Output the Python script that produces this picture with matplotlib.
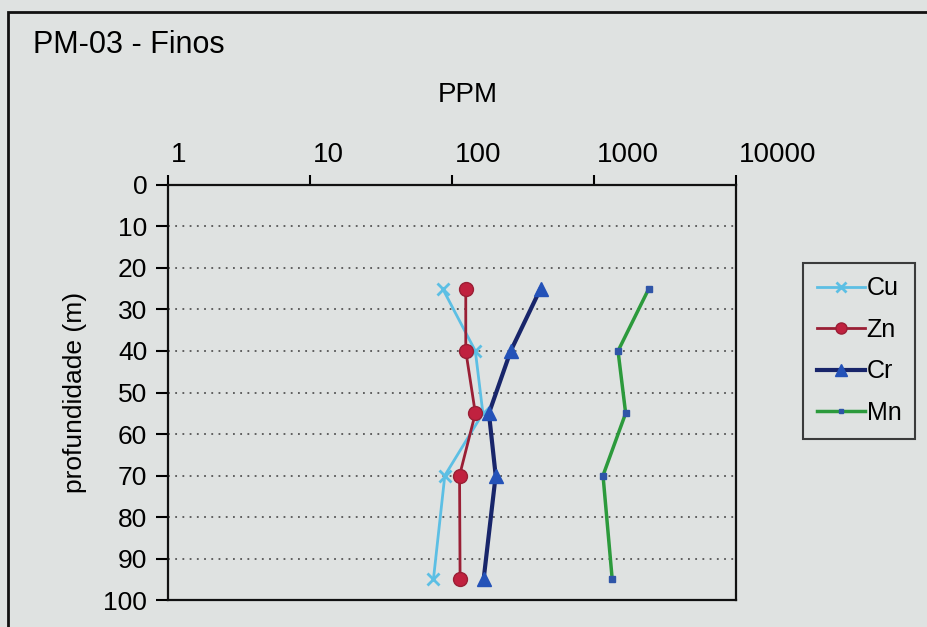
import matplotlib.pyplot as plt
from matplotlib.patches import Rectangle

plt.rcParams['font.family'] = ['Liberation Sans', 'DejaVu Sans']

# depth (m) and concentrations (ppm)
depth = [25, 40, 55, 70, 95]
cu = [86, 146, 165, 89, 74]
zn = [125, 125, 146, 113, 114]
cr = [420, 259, 182, 203, 167]
mn = [2430, 1476, 1670, 1157, 1343]

x_ticks = [1, 10, 100, 1000, 10000]
y_ticks = list(range(0, 101, 10))

bg = '#dfe2e1'

fig = plt.figure(figsize=(9.27, 6.27), dpi=100, facecolor=bg)
ax = fig.add_axes([0.1812, 0.043, 0.6128, 0.662], facecolor=bg)

# outer chart frame (runs off the picture at right and bottom)
fig.patches.append(Rectangle((0.0086, -0.1), 1.2, 1.081, transform=fig.transFigure,
                             fill=False, edgecolor='#111111', linewidth=2))

ax.plot(cu, depth, color='#5cbfe4', lw=2, marker='x', ms=9, mew=2,
        mec='#5cbfe4', label='Cu')
ax.plot(zn, depth, color='#9a1f35', lw=2, marker='o', ms=10,
        mfc='#c0213f', mec='#9a1f35', label='Zn')
ax.plot(cr, depth, color='#18256a', lw=3, marker='^', ms=10,
        mfc='#2452b8', mec='#2452b8', label='Cr')
ax.plot(mn, depth, color='#2c9a3c', lw=2.5, marker='s', ms=4,
        mfc='#2f55a8', mec='#2f55a8', label='Mn')

ax.set_xscale('log')
ax.set_xlim(1, 10000)
ax.set_ylim(100, 0)
ax.set_yticks(y_ticks)
ax.set_yticklabels([str(v) for v in y_ticks], fontsize=19)
ax.yaxis.grid(True, linestyle=(0, (1, 3)), color='#555555', lw=1.3)
ax.tick_params(axis='y', direction='out', length=9, width=1.5, pad=6)

ax.xaxis.set_ticks_position('top')
ax.set_xticks(x_ticks)
ax.set_xticklabels([])
ax.minorticks_off()
ax.tick_params(axis='x', direction='out', length=7, width=1.5)
for v in x_ticks:
    ax.annotate(str(v), xy=(v, 0), xycoords='data', xytext=(2, 12),
                textcoords='offset points', ha='left', va='bottom', fontsize=20)

for s in ax.spines.values():
    s.set_linewidth(1.6)
    s.set_color('#111111')

ax.set_ylabel('profundidade (m)', fontsize=19, labelpad=12)
fig.text(0.505, 0.848, 'PPM', ha='center', va='center', fontsize=20)
fig.text(0.036, 0.928, 'PM-03 - Finos', ha='left', va='center', fontsize=22)

leg = ax.legend(loc='upper left', bbox_to_anchor=(0.866, 0.581), bbox_transform=fig.transFigure,
                fontsize=18, frameon=True, fancybox=False, handlelength=1.95,
                handletextpad=0.05, borderpad=0.55, labelspacing=0.7, borderaxespad=0,
                markerscale=0.8)
leg.get_frame().set_edgecolor('#111111')
leg.get_frame().set_facecolor(bg)
leg.get_frame().set_linewidth(1.5)

fig.savefig('out.png', dpi=100, facecolor=bg)
